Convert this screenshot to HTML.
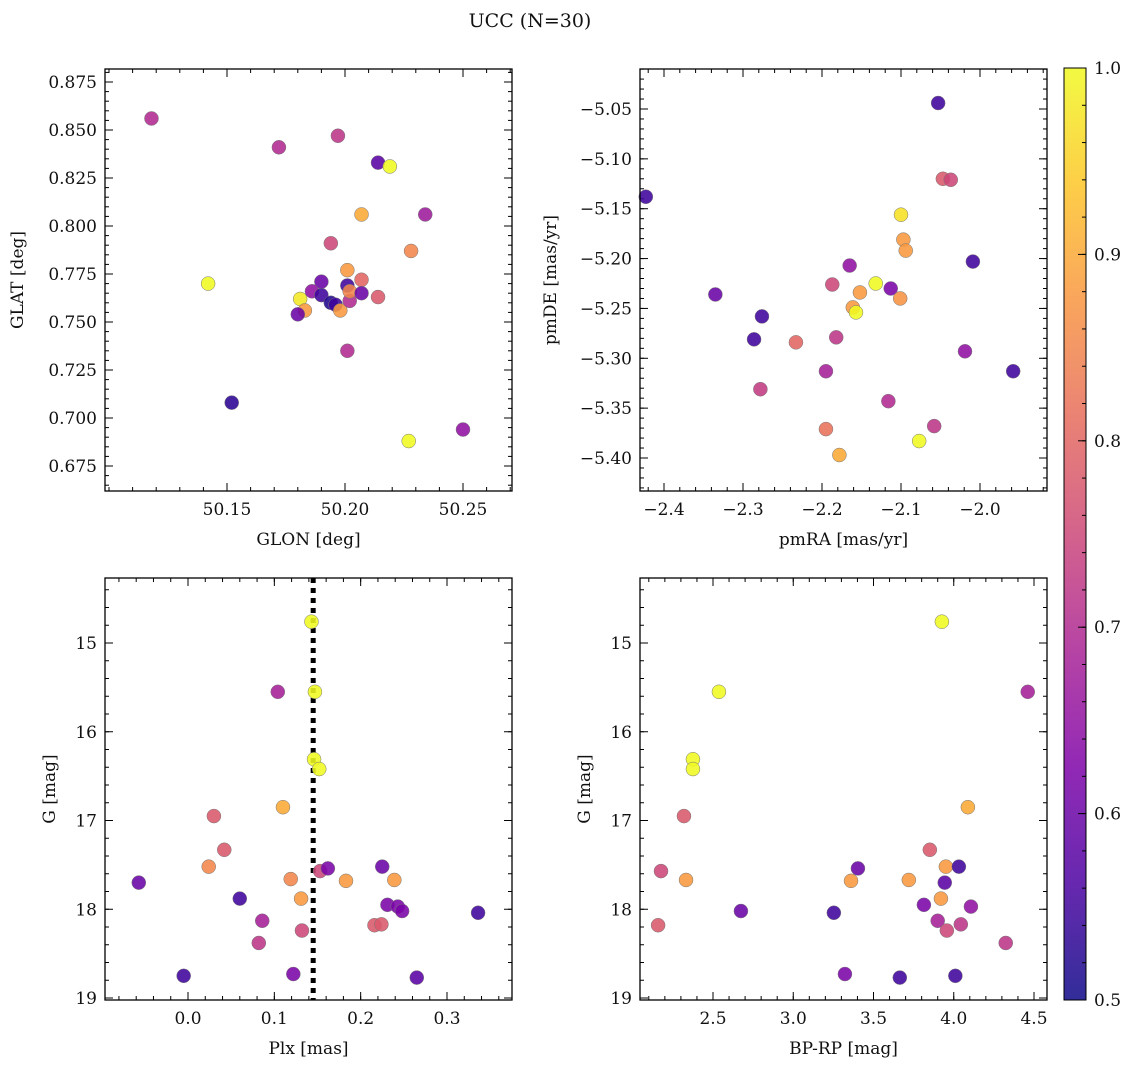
<!DOCTYPE html>
<html><head><meta charset="utf-8"><style>
body{margin:0;background:#fff}
svg text{font-family:"DejaVu Serif","Liberation Serif",serif;font-size:17px;fill:#111}
</style></head><body>
<svg id="fig" width="1136" height="1068" xmlns="http://www.w3.org/2000/svg">
<text x="530" y="27" text-anchor="middle" style="font-size:19px">UCC (N=30)</text>
</svg>
<script>
// ---- data ----
const glon=[50.118,50.172,50.197,50.214,50.219,50.207,50.234,50.194,50.228,50.142,50.201,50.190,50.207,50.181,50.186,50.201,50.183,50.180,50.190,50.194,50.196,50.198,50.202,50.202,50.207,50.214,50.201,50.152,50.227,50.250];
const glat=[0.856,0.841,0.847,0.833,0.831,0.806,0.806,0.791,0.787,0.770,0.777,0.771,0.772,0.762,0.766,0.769,0.756,0.754,0.764,0.760,0.759,0.756,0.761,0.766,0.765,0.763,0.735,0.708,0.688,0.694];
const probA=[0.7,0.7,0.72,0.58,1.0,0.9,0.67,0.75,0.85,1.0,0.88,0.6,0.8,0.98,0.65,0.55,0.88,0.6,0.55,0.52,0.55,0.88,0.7,0.85,0.6,0.78,0.7,0.53,1.0,0.65];
const pmra=[-2.053,-2.423,-2.047,-2.037,-2.100,-2.097,-2.094,-2.009,-2.165,-2.132,-2.187,-2.152,-2.113,-2.335,-2.161,-2.157,-2.101,-2.276,-2.286,-2.233,-2.182,-2.019,-2.195,-1.958,-2.116,-2.278,-2.058,-2.195,-2.077,-2.178];
const pmde=[-5.044,-5.138,-5.120,-5.121,-5.156,-5.181,-5.192,-5.203,-5.207,-5.225,-5.226,-5.234,-5.230,-5.236,-5.249,-5.254,-5.240,-5.258,-5.281,-5.284,-5.279,-5.293,-5.313,-5.313,-5.343,-5.331,-5.368,-5.371,-5.383,-5.397];
const probB=[0.55,0.55,0.78,0.75,0.97,0.88,0.88,0.55,0.65,1.0,0.75,0.88,0.62,0.6,0.88,1.0,0.87,0.55,0.55,0.8,0.72,0.65,0.68,0.55,0.7,0.73,0.72,0.82,1.0,0.9];
const plx=[0.143,0.147,0.104,0.146,0.152,0.110,0.030,0.042,0.024,-0.057,0.119,0.153,0.162,0.225,0.183,0.239,0.060,0.131,0.231,0.243,0.248,0.336,0.086,0.216,0.224,0.132,0.082,-0.005,0.122,0.265];
const gmagC=[14.76,15.55,15.55,16.31,16.42,16.85,16.95,17.33,17.52,17.70,17.66,17.57,17.54,17.52,17.68,17.67,17.88,17.88,17.95,17.97,18.02,18.04,18.13,18.18,18.17,18.24,18.38,18.75,18.73,18.77];
const probC=[1.0,1.0,0.68,1.0,1.0,0.9,0.78,0.78,0.85,0.6,0.85,0.75,0.62,0.6,0.88,0.88,0.55,0.88,0.62,0.62,0.62,0.55,0.68,0.78,0.78,0.75,0.72,0.55,0.62,0.58];
const plxLine=0.145;
const bprp=[3.926,2.537,4.461,2.375,2.375,4.088,2.319,3.851,3.951,2.176,3.403,4.032,2.332,3.36,3.72,3.944,3.92,3.814,4.107,2.674,3.253,3.90,4.044,3.957,2.158,4.324,3.322,3.664,4.01];
const gmagD=[14.76,15.55,15.55,16.31,16.42,16.85,16.95,17.33,17.52,17.57,17.54,17.52,17.67,17.68,17.67,17.70,17.88,17.95,17.97,18.02,18.04,18.13,18.17,18.24,18.18,18.38,18.73,18.77,18.75];
const probD=[1.0,1.0,0.68,1.0,1.0,0.9,0.78,0.78,0.88,0.75,0.6,0.55,0.88,0.88,0.88,0.58,0.88,0.62,0.65,0.6,0.55,0.68,0.72,0.75,0.78,0.72,0.62,0.55,0.55];
const ticksA_x=[50.15,50.20,50.25], ticksA_y=[0.675,0.700,0.725,0.750,0.775,0.800,0.825,0.850,0.875];
const ticksB_x=[-2.4,-2.3,-2.2,-2.1,-2.0], ticksB_y=[-5.40,-5.35,-5.30,-5.25,-5.20,-5.15,-5.10,-5.05];
const ticksC_x=[0.0,0.1,0.2,0.3], ticksG=[15,16,17,18,19];
const ticksD_x=[2.5,3.0,3.5,4.0,4.5];
const cbTicks=[0.5,0.6,0.7,0.8,0.9,1.0];

const NS="http://www.w3.org/2000/svg", fig=document.getElementById('fig');
function mk(tag,attrs,parent){const e=document.createElementNS(NS,tag);for(const k in attrs)e.setAttribute(k,attrs[k]);(parent||fig).appendChild(e);return e;}
const stops=[[13,8,135],[76,2,161],[126,3,168],[169,35,149],[204,71,120],[230,108,92],[248,149,64],[253,197,39],[240,249,33]];
function plasma(t){t=Math.max(0,Math.min(1,t))*8;const i=Math.min(7,Math.floor(t)),f=t-i,a=stops[i],b=stops[i+1];return 'rgb('+a.map((v,k)=>Math.round(v+(b[k]-v)*f)).join(',')+')';}
function cmap(p){return plasma((p-0.5)/0.5);}

function panel(o){
  const g=mk('g',{});
  
  
  const X=v=>o.x0+(v-o.xv0)/(o.xv1-o.xv0)*(o.x1-o.x0);
  const Y=v=>o.y0+(v-o.yv0)/(o.yv1-o.yv0)*(o.y1-o.y0);
  const L=o.L,R=o.R,T=o.T,B=o.B;
  const xa=(L-o.x0)/(o.x1-o.x0)*(o.xv1-o.xv0)+o.xv0, xb=(R-o.x0)/(o.x1-o.x0)*(o.xv1-o.xv0)+o.xv0;
  for(let v=Math.ceil(Math.min(xa,xb)/o.xm)*o.xm; v<=Math.max(xa,xb); v+=o.xm){const px=X(v);
    mk('line',{x1:px,x2:px,y1:B,y2:B-4,stroke:'#000'},g);mk('line',{x1:px,x2:px,y1:T,y2:T+4,stroke:'#000'},g);}
  const ya=(T-o.y0)/(o.y1-o.y0)*(o.yv1-o.yv0)+o.yv0, yb=(B-o.y0)/(o.y1-o.y0)*(o.yv1-o.yv0)+o.yv0;
  for(let v=Math.ceil(Math.min(ya,yb)/o.ym-1e-9)*o.ym; v<=Math.max(ya,yb); v+=o.ym){const py=Y(v);
    mk('line',{x1:L,x2:L+4,y1:py,y2:py,stroke:'#000'},g);mk('line',{x1:R,x2:R-4,y1:py,y2:py,stroke:'#000'},g);}
  o.xt.forEach(v=>{const px=X(v);
    mk('line',{x1:px,x2:px,y1:B,y2:B-8,stroke:'#000'},g);mk('line',{x1:px,x2:px,y1:T,y2:T+8,stroke:'#000'},g);
    const t=mk('text',{x:px,y:B+24,'text-anchor':'middle'},g);t.textContent=o.xf(v);
    
    });
  o.yt.forEach(v=>{const py=Y(v);
    mk('line',{x1:L,x2:L+8,y1:py,y2:py,stroke:'#000'},g);mk('line',{x1:R,x2:R-8,y1:py,y2:py,stroke:'#000'},g);
    const t=mk('text',{x:L-8,y:py+6,'text-anchor':'end'},g);t.textContent=o.yf(v);
    
    });
  if(o.vline!==undefined){mk('line',{x1:X(o.vline),x2:X(o.vline),y1:T,y2:B,stroke:'#000','stroke-width':5,'stroke-dasharray':'5,5'},g);}
  o.xs.forEach((v,i)=>{const c=mk('circle',{cx:X(v),cy:Y(o.ys[i]),r:7,fill:cmap(o.ps[i]),'fill-opacity':0.88,stroke:'#777','stroke-width':0.5},g);
    
    });
  mk('rect',{x:L,y:T,width:R-L,height:B-T,fill:'none',stroke:'#000','stroke-width':1.3},g);
  const xl=mk('text',{x:(L+R)/2,y:B+54,'text-anchor':'middle'},g);xl.textContent=o.xlab;
  
  
  const yl=mk('text',{x:o.ylx,y:(T+B)/2,'text-anchor':'middle',transform:'rotate(-90 '+o.ylx+' '+(T+B)/2+')'},g);yl.textContent=o.ylab;
  
  
}
panel({name:'glon-glat-panel',L:105,R:512,T:69,B:491,x0:227,x1:345,xv0:50.15,xv1:50.20,y0:82,y1:130,yv0:0.875,yv1:0.850,xm:0.01,ym:0.005,
  xt:ticksA_x,yt:ticksA_y,xf:v=>v.toFixed(2),yf:v=>v.toFixed(3),xs:glon,ys:glat,ps:probA,xlab:'GLON [deg]',ylab:'GLAT [deg]',ylx:23});
panel({name:'proper-motion-panel',L:640,R:1047,T:69,B:491,x0:664,x1:980,xv0:-2.4,xv1:-2.0,y0:109,y1:458,yv0:-5.05,yv1:-5.40,xm:0.02,ym:0.01,
  xt:ticksB_x,yt:ticksB_y,xf:v=>v.toFixed(1).replace('-','\u2212'),yf:v=>v.toFixed(2).replace('-','\u2212'),xs:pmra,ys:pmde,ps:probB,xlab:'pmRA [mas/yr]',ylab:'pmDE [mas/yr]',ylx:556});
panel({name:'plx-g-panel',L:105,R:512,T:578,B:1000,x0:188,x1:447,xv0:0,xv1:0.3,y0:643,y1:998,yv0:15,yv1:19,xm:0.02,ym:0.2,
  xt:ticksC_x,yt:ticksG,xf:v=>v.toFixed(1),yf:v=>String(v),xs:plx,ys:gmagC,ps:probC,vline:plxLine,xlab:'Plx [mas]',ylab:'G [mag]',ylx:55});
panel({name:'cmd-panel',L:640,R:1047,T:578,B:1000,x0:713,x1:1034,xv0:2.5,xv1:4.5,y0:643,y1:998,yv0:15,yv1:19,xm:0.1,ym:0.2,
  xt:ticksD_x,yt:ticksG,xf:v=>v.toFixed(1),yf:v=>String(v),xs:bprp,ys:gmagD,ps:probD,xlab:'BP-RP [mag]',ylab:'G [mag]',ylx:590});
// colorbar
const cb=mk('g',{});


const defs=mk('defs',{},cb),lg=mk('linearGradient',{id:'cbg',x1:0,y1:1,x2:0,y2:0},defs);
for(let i=0;i<=16;i++){mk('stop',{offset:i/16,'stop-color':plasma(i/16),'stop-opacity':0.85},lg);}
const cT=68,cB=1000,cL=1064,cR=1086;
mk('rect',{x:cL,y:cT,width:cR-cL,height:cB-cT,fill:'url(#cbg)',stroke:'#000','stroke-width':1},cb);
const CY=v=>cB-(v-0.5)/0.5*(cB-cT);
for(let v=0.5;v<=1.0001;v+=0.02){mk('line',{x1:cR,x2:cR-4,y1:CY(v),y2:CY(v),stroke:'#000'},cb);}
cbTicks.forEach(v=>{mk('line',{x1:cR,x2:cR-8,y1:CY(v),y2:CY(v),stroke:'#000'},cb);
  const t=mk('text',{x:cR+8,y:CY(v)+6},cb);t.textContent=v.toFixed(1);
  
  });
</script>
</body></html>
